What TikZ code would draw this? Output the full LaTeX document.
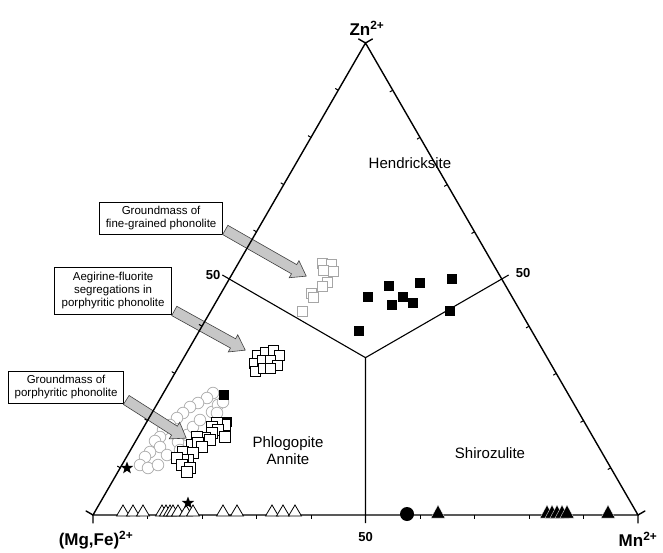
\documentclass[tikz,border=0pt]{standalone}
\usepackage{fontspec}
\setmainfont{Liberation Sans}
\usetikzlibrary{calc,shapes.arrows,shapes.geometric}

\tikzset{
  edge/.style={line width=1.4pt, line cap=round},
  field/.style={line width=1.1pt},
  tickmark/.style={line width=1pt},
  sqopen/.style={draw=black, fill=white, line width=.9pt},
  sqgray/.style={draw=black!35, fill=white, line width=.8pt},
  sqfull/.style={fill=black},
  circgray/.style={draw=black!30, fill=white, line width=.8pt},
  tropen/.style={draw=black, fill=white, line width=.8pt},
  trfull/.style={draw=white, fill=black, line width=.3pt},
  starmark/.style={star, star points=5, star point ratio=2.4, fill=black, inner sep=0pt,
    minimum size=13pt},
  notebox/.style={draw=black, fill=white, line width=.8pt, align=center, inner sep=0pt,
    font=\fontsize{11.5}{13}\selectfont, anchor=north east},
  fatarrow/.style={single arrow, draw=black!75, fill=black!22, line width=.6pt,
    inner xsep=0pt, inner ysep=5pt, single arrow head extend=4.5pt,
    single arrow tip angle=70, anchor=tail},
  corner/.style={font=\bfseries\fontsize{17}{17}\selectfont},
  fifty/.style={font=\bfseries\fontsize{13}{13}\selectfont},
  region/.style={font=\fontsize{15}{17}\selectfont, align=center},
}

\newcommand{\pointer}[3]{%
  \path let \p1=($(#3)-(#2)$), \n1={atan2(\y1,\x1)}, \n2={veclen(\x1,\y1)} in
    node[fatarrow, minimum height=\n2, rotate=\n1] (#1) at (#2) {};}

\begin{document}
\begin{tikzpicture}[x=1pt,y=-1pt]
  \useasboundingbox[fill=white] (0,0) rectangle (663,553);
  \coordinate (MgFe) at (93,515);
  \coordinate (Mn) at (638,515);
  \coordinate (Zn) at (365.5,43);
  \coordinate (L) at ($(MgFe)!.5!(Zn)$);
  \coordinate (R) at ($(Mn)!.5!(Zn)$);
  \coordinate (B) at ($(MgFe)!.5!(Mn)$);
  \coordinate (O) at (barycentric cs:MgFe=1,Mn=1,Zn=1);

  % groundmass of porphyritic phonolite (circles)
  \foreach \x/\y in {213/393,207/398,198/403,190/407,183/413,177/418,170/425,163/430,
    160/437,155/441,160/447,150/452,145/457,140/465,148/468,158/465,167/455,178/442,
    187/435,193/427,200/420,212/412,218/405,223/402,217/413,180/450}
    \draw[circgray] (\x,\y) circle (5.8);

  % boxes and pointers
  \node[notebox, minimum width=123, minimum height=32] (box1) at (223,202)
    {Groundmass of\\fine-grained phonolite};
  \node[notebox, minimum width=117, minimum height=47] (box2) at (172,267)
    {Aegirine-fluorite\\segregations in\\porphyritic phonolite};
  \node[notebox, minimum width=115, minimum height=32] (box3) at (124,371)
    {Groundmass of\\porphyritic phonolite};
  \coordinate (tip1) at (306,276);
  \coordinate (tip2) at (245,350);
  \coordinate (tip3) at (186,438);
  \pointer{arr1}{[shift={(2,-5)}]box1.south east}{tip1}
  \pointer{arr2}{[shift={(2,-4)}]box2.south east}{tip2}
  \pointer{arr3}{[shift={(2,-4)}]box3.south east}{tip3}

  % triangle and fields
  \draw[edge] (MgFe) -- (Mn) -- (Zn) -- cycle;
  \draw[field] (L) -- (O) -- (R) (O) -- (B);
  \draw[edge] (MgFe) -- ++(0,8) (MgFe) -- ++(-6.9,-4) (Mn) -- ++(0,8) (Mn) -- ++(6.9,-4)
    (Zn) -- ++(-6.9,-4) (Zn) -- ++(6.9,-4);
  \draw[field] (L) -- ++(-6.9,-4) (R) -- ++(6.9,-4) (B) -- ++(0,8);
  \foreach \t in {.1,.2,.3,.4,.6,.7,.8,.9} {
    \draw[tickmark] ($(MgFe)!\t!(Mn)$) -- ++(0,3.5);
    \draw[tickmark] ($(MgFe)!\t!(Zn)$) -- ++(-3,-1.75);
    \draw[tickmark] ($(Mn)!\t!(Zn)$) -- ++(-3,1.75);
  }

  % groundmass of fine-grained phonolite
  \foreach \x/\y in {322/263,331/264,323/270,333/271,327/282,322/286,311/293,313/297,302/311}
    \draw[sqgray] (\x-5,\y-5) rectangle ++(10,10);
  % hendricksite
  \foreach \x/\y in {368/297,389/286,420/283,452/279,403/297,392/305,413/303,450/311,359/331,
    224/395,227/422}
    \fill[sqfull] (\x-5,\y-5) rectangle ++(10,10);
  % aegirine-fluorite segregations
  \foreach \x/\y in {257/355,265/352,273/350,279/355,254/363,262/360,270/360,277/365,
    255/371,263/368,270/368}
    \draw[sqopen] (\x-5,\y-5) rectangle ++(10,10);
  % groundmass of porphyritic phonolite (squares)
  \foreach \x/\y in {225/425,217/423,212/427,218/430,212/433,205/438,197/437,225/437,
    210/440,192/445,198/443,202/447,183/452,193/453,188/460,183/460,177/458,182/465,
    190/468,187/472}
    \draw[sqopen] (\x-5.5,\y-5.5) rectangle ++(11,11);

  % base line points
  \foreach \x in {123,133,143,162,166,170,173,178,186,193,223,237,272,283,295}
    \draw[tropen] (\x-6.5,516) -- (\x+6.5,516) -- (\x,505) -- cycle;
  \foreach \x in {438,547,552,557,562,567,608}
    \draw[trfull] (\x-7,518) -- (\x+7,518) -- (\x,505) -- cycle;
  \fill (407,514) circle (7);
  \node[starmark] (star1) at (127,468) {};
  \node[starmark] (star2) at (188,503) {};

  % labels
  \node[corner] (znlab) at (367,28) {Zn\textsuperscript{2+}};
  \node[corner] (mgfelab) at (96,540) {(Mg,Fe)\textsuperscript{2+}};
  \node[corner] (mnlab) at (638,539) {Mn\textsuperscript{2+}};
  \node[fifty] (l50) at (213,275) {50};
  \node[fifty] (r50) at (523,273) {50};
  \node[fifty] (b50) at (365.5,537) {50};
  \node[region] (hend) at (410,163) {Hendricksite};
  \node[region] (phlog) at (288,451) {Phlogopite\\Annite};
  \node[region] (shiro) at (490,453) {Shirozulite};
\end{tikzpicture}
\end{document}
